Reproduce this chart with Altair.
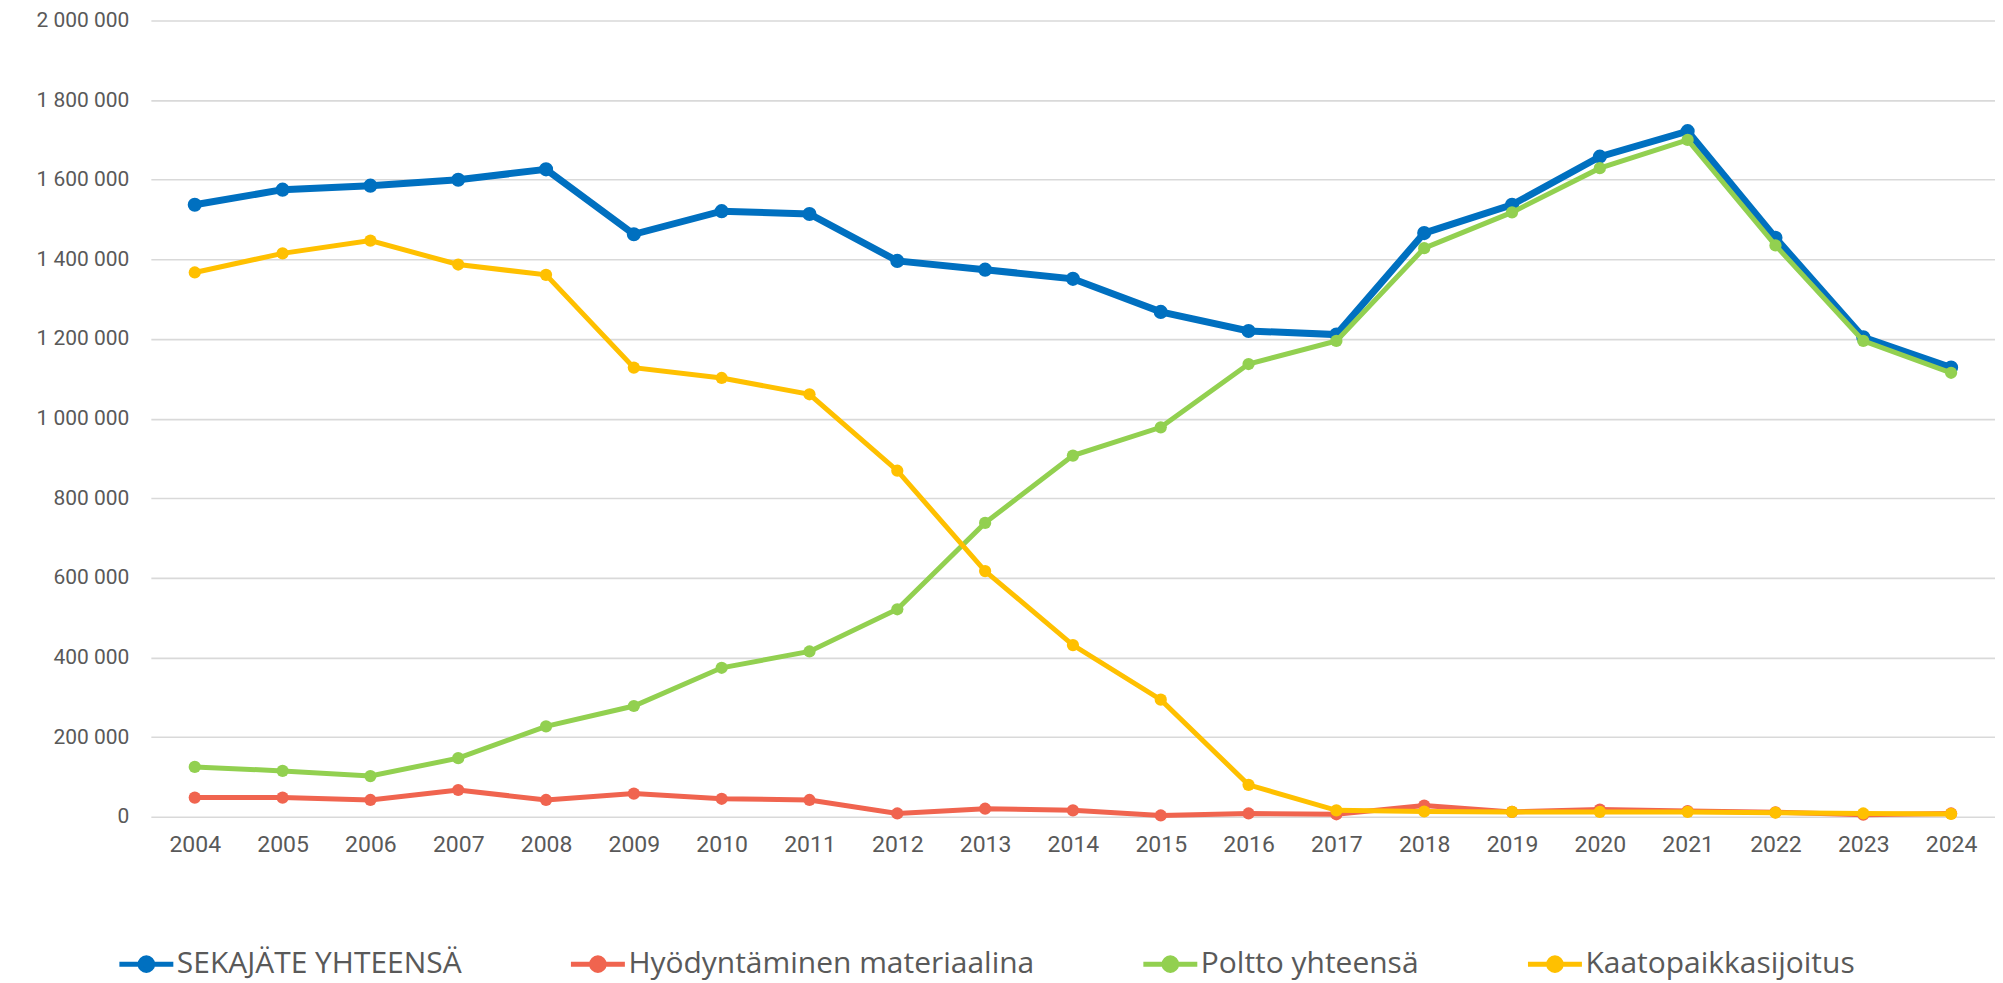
import altair as alt
import pandas as pd

years = [str(y) for y in range(2004, 2025)]

series_names = [
    "SEKAJÄTE YHTEENSÄ",
    "Hyödyntäminen materiaalina",
    "Poltto yhteensä",
    "Kaatopaikkasijoitus",
]
colors = ["#0070C0", "#F0644F", "#92D050", "#FFC000"]

sekajate = [1537000, 1575000, 1585000, 1600000, 1626000, 1463000, 1521000, 1514000,
            1396000, 1374000, 1351000, 1268000, 1220000, 1211000, 1466000, 1537000,
            1658000, 1722000, 1454000, 1204000, 1128000]
hyodyntaminen = [48000, 48000, 42000, 67000, 42000, 58000, 45000, 42000, 8000, 20000,
                 16000, 3000, 8000, 6000, 28000, 12000, 18000, 14000, 11000, 5000, 8000]
poltto = [125000, 115000, 102000, 147000, 227000, 278000, 374000, 415000, 521000,
          738000, 907000, 978000, 1137000, 1195000, 1428000, 1518000, 1629000,
          1700000, 1435000, 1195000, 1115000]
kaatopaikka = [1367000, 1415000, 1447000, 1387000, 1361000, 1128000, 1102000, 1061000,
               869000, 617000, 431000, 294000, 80000, 16000, 13000, 12000, 12000,
               12000, 10000, 8000, 7000]

values = [sekajate, hyodyntaminen, poltto, kaatopaikka]
rows = []
for name, vals in zip(series_names, values):
    for y, v in zip(years, vals):
        rows.append({"Vuosi": y, "Sarja": name, "Arvo": v})
df = pd.DataFrame(rows)

# legend symbol: a line with a dot in the middle
legend_path = ("M-1.8,0L1.8,0M-0.42,0A0.42,0.42,0,1,1,0.42,0"
               "A0.42,0.42,0,1,1,-0.42,0Z")


def make_legend():
    return alt.Legend(
        title=None,
        orient="none",
        direction="horizontal",
        legendX=-22,
        legendY=927,
        symbolType=legend_path,
        symbolSize=900,
        symbolStrokeWidth=5,
        symbolOpacity=1,
        labelFont="Open Sans",
        labelFontSize=30,
        labelColor="#595959",
        labelOffset=13,
        columnPadding=98,
        labelLimit=800,
    )


x_enc = alt.X(
    "Vuosi:O",
    sort=years,
    scale=alt.Scale(type="point", padding=0.5),
    axis=alt.Axis(
        title=None,
        labelAngle=0,
        labelFont="Roboto",
        labelFontSize=23,
        labelColor="#595959",
        labelPadding=17,
        ticks=False,
        domain=False,
        grid=False,
    ),
)
y_enc = alt.Y(
    "Arvo:Q",
    scale=alt.Scale(domain=[0, 2000000], nice=False),
    axis=alt.Axis(
        title=None,
        values=list(range(0, 2000001, 200000)),
        labelExpr="replace(format(datum.value, ',d'), regexp(',', 'g'), ' ')",
        labelFont="Roboto",
        labelFontSize=21,
        labelColor="#595959",
        labelPadding=22,
        ticks=False,
        domain=False,
        gridColor="#D9D9D9",
        gridWidth=1.6,
    ),
)

layers = []
for i, name in enumerate(series_names):
    sw = 7 if i == 0 else 5
    size = 200 if i == 0 else 150
    base = alt.Chart(df).transform_filter(alt.datum.Sarja == name)
    line = base.mark_line(strokeWidth=sw).encode(
        x=x_enc, y=y_enc,
        stroke=alt.Stroke("Sarja:N", scale=alt.Scale(domain=series_names, range=colors),
                          legend=make_legend()),
    )
    pts = base.mark_point(filled=True, size=size, opacity=1, strokeWidth=0).encode(
        x=x_enc, y=y_enc,
        fill=alt.Fill("Sarja:N", scale=alt.Scale(domain=series_names, range=colors),
                      legend=make_legend()),
    )
    layers += [line, pts]

chart = alt.layer(*layers).properties(
    width=1846,
    height=797,
    autosize=alt.AutoSizeParams(type="none"),
    padding={"left": 143, "top": 12, "right": 0, "bottom": 166},
    background="white",
).configure_view(stroke=None)

chart.save("out.html", embed_options={"renderer": "svg", "actions": False})
